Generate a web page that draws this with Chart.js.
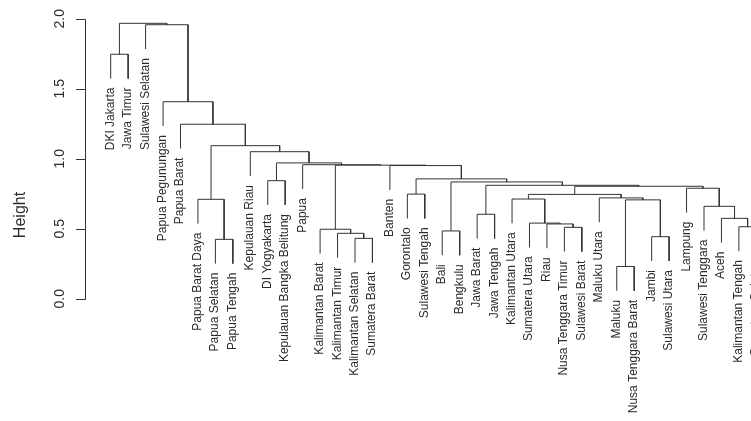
<!DOCTYPE html>
<html>
<head>
<meta charset="utf-8">
<script src="https://cdn.jsdelivr.net/npm/chart.js@4/dist/chart.umd.min.js"></script>
<style>
  html, body { margin: 0; padding: 0; background: #ffffff; }
  #wrap { width: 751px; height: 421px; }
</style>
</head>
<body>
<div id="wrap"><canvas id="dend"></canvas></div>
<script>
// Provinces in dendrogram leaf order (left to right)
const provinces = [
  'DKI Jakarta', 'Jawa Timur', 'Sulawesi Selatan', 'Papua Pegunungan', 'Papua Barat',
  'Papua Barat Daya', 'Papua Selatan', 'Papua Tengah', 'Kepulauan Riau', 'DI Yogyakarta',
  'Kepulauan Bangka Belitung', 'Papua', 'Kalimantan Barat', 'Kalimantan Timur', 'Kalimantan Selatan',
  'Sumatera Barat', 'Banten', 'Gorontalo', 'Sulawesi Tengah', 'Bali',
  'Bengkulu', 'Jawa Barat', 'Jawa Tengah', 'Kalimantan Utara', 'Sumatera Utara',
  'Riau', 'Nusa Tenggara Timur', 'Sulawesi Barat', 'Maluku Utara', 'Maluku',
  'Nusa Tenggara Barat', 'Jambi', 'Sulawesi Utara', 'Lampung', 'Sulawesi Tenggara',
  'Aceh', 'Kalimantan Tengah', 'Sumatera Selatan'
];

// Merge steps: negative = leaf number (1-based position above), positive = earlier merge step
const mergeLeft  = [-30, -7, -15, -32, -14, -20, -13, -27, -37, -26,
                    -25, -36, -22, -35, 1, -6, -24, -29, 17, -18,
                    -34, 19, 13, 6, -10, 20, -17, 7, -12, 25,
                    -9, 16, -5, -4, -1, -3, 35];
const mergeRight = [-31, -8, -16, -33, 3, -21, 5, -28, -38, 8,
                    10, 9, -23, 12, 4, 2, 11, 15, 18, -19,
                    14, 21, 22, 23, -11, 24, 26, 27, 28, 29,
                    30, 31, 32, 33, -2, 34, 36];
const mergeHeight = [0.230, 0.424, 0.431, 0.443, 0.467, 0.484, 0.496, 0.510, 0.514, 0.534,
                     0.540, 0.574, 0.603, 0.660, 0.706, 0.710, 0.712, 0.720, 0.745, 0.747,
                     0.789, 0.803, 0.810, 0.834, 0.843, 0.856, 0.951, 0.954, 0.957, 0.970,
                     1.050, 1.093, 1.246, 1.407, 1.746, 1.957, 1.967];

// Height axis
const yTicks = [0, 0.5, 1, 1.5, 2];
const yTickLabels = ['0.0', '0.5', '1.0', '1.5', '2.0'];
const axisTitle = 'Height';
const hangFraction = 0.1;

// ---- tree geometry (U-shaped links) ----
const hang = hangFraction * (Math.max(...mergeHeight) - Math.min(...mergeHeight));
const nodeX = [];
const nodeH = [];
const leafBottom = new Array(provinces.length);
const links = [];

function refX(ref) { return ref < 0 ? -ref : nodeX[ref - 1]; }

mergeHeight.forEach((h, i) => {
  const refs = [mergeLeft[i], mergeRight[i]];
  const xs = refs.map(refX);
  const lows = refs.map(r => (r < 0 ? h - hang : nodeH[r - 1]));
  refs.forEach((r, k) => { if (r < 0) leafBottom[-r - 1] = lows[k]; });
  nodeX[i] = (xs[0] + xs[1]) / 2;
  nodeH[i] = h;
  links.push(
    { x: xs[0], y: lows[0] },
    { x: xs[0], y: h },
    { x: xs[1], y: h },
    { x: xs[1], y: lows[1] },
    { x: xs[1], y: null }
  );
});

const FONT = '"Liberation Sans", Arial, Helvetica, sans-serif';
const INK = '#2b2b2b';

// Axis, tick labels, title and leaf labels
const dendroText = {
  id: 'dendroText',
  afterDatasetsDraw(chart) {
    const { ctx, scales: { x, y } } = chart;
    ctx.save();

    // left axis spanning the tick range
    const axisX = 85.5;
    ctx.strokeStyle = '#333333';
    ctx.lineWidth = 1;
    ctx.beginPath();
    const yTop = Math.round(y.getPixelForValue(yTicks[yTicks.length - 1])) + 0.5;
    const yBot = Math.round(y.getPixelForValue(yTicks[0])) + 0.5;
    ctx.moveTo(axisX, yBot);
    ctx.lineTo(axisX, yTop);
    yTicks.forEach(v => {
      const py = Math.round(y.getPixelForValue(v)) + 0.5;
      ctx.moveTo(axisX - 9.5, py);
      ctx.lineTo(axisX, py);
    });
    ctx.stroke();

    ctx.fillStyle = INK;

    // tick labels (rotated)
    ctx.font = '14px ' + FONT;
    ctx.textAlign = 'center';
    ctx.textBaseline = 'alphabetic';
    yTicks.forEach((v, i) => {
      ctx.save();
      ctx.translate(63.5, y.getPixelForValue(v));
      ctx.rotate(-Math.PI / 2);
      ctx.fillText(yTickLabels[i], 0, 0);
      ctx.restore();
    });

    // axis title
    ctx.font = '16px ' + FONT;
    ctx.save();
    ctx.translate(25, 215);
    ctx.rotate(-Math.PI / 2);
    ctx.fillText(axisTitle, 0, 0);
    ctx.restore();

    // leaf labels hanging below each leaf
    ctx.font = '12px ' + FONT;
    ctx.textAlign = 'right';
    provinces.forEach((name, i) => {
      const px = x.getPixelForValue(i + 1);
      const py = y.getPixelForValue(leafBottom[i]) + 9;
      ctx.save();
      ctx.translate(px, py);
      ctx.rotate(-Math.PI / 2);
      ctx.fillText(name, 0, 3);
      ctx.restore();
    });

    ctx.restore();
  }
};

new Chart(document.getElementById('dend'), {
  type: 'scatter',
  data: {
    datasets: [{
      data: links,
      showLine: true,
      spanGaps: false,
      borderColor: '#333333',
      borderWidth: 1,
      borderJoinStyle: 'miter',
      pointRadius: 0,
      pointHoverRadius: 0,
      tension: 0
    }]
  },
  options: {
    responsive: true,
    maintainAspectRatio: false,
    animation: false,
    events: [],
    layout: { padding: 0 },
    plugins: {
      legend: { display: false },
      tooltip: { enabled: false }
    },
    scales: {
      x: { type: 'linear', display: false, min: -5.344, max: 37.694 },
      y: { type: 'linear', display: false, min: -0.8736, max: 2.1336 }
    }
  },
  plugins: [dendroText]
});
</script>
</body>
</html>
